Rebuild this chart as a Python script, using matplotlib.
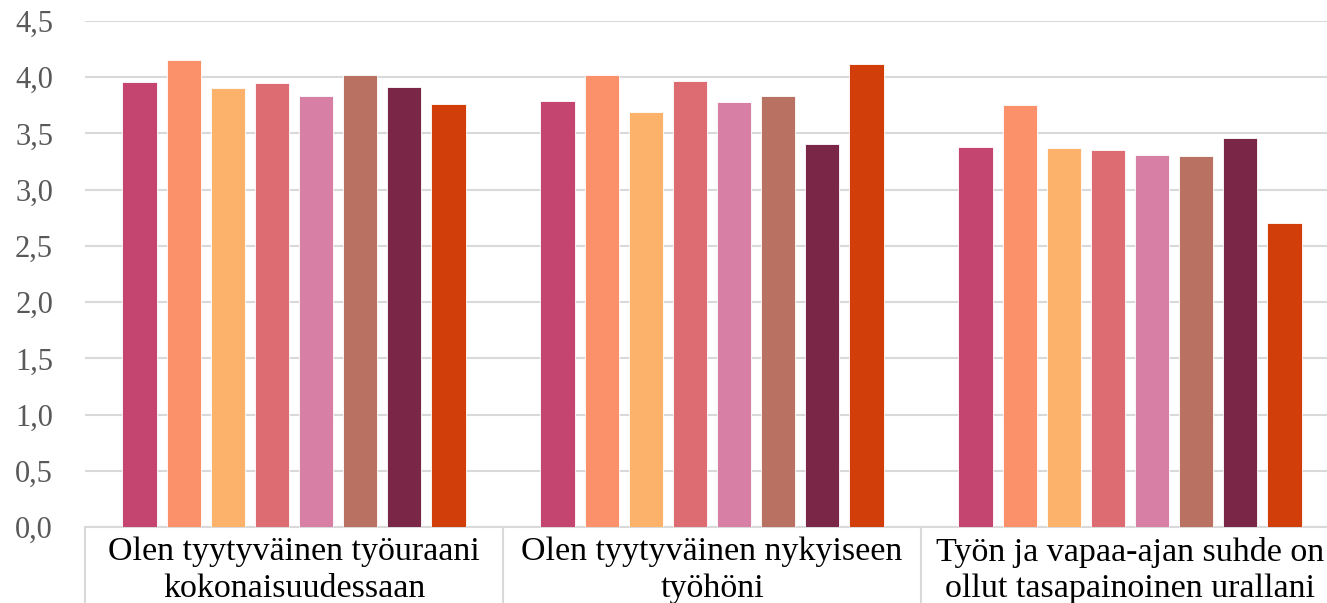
import matplotlib
matplotlib.use("Agg")
import matplotlib.pyplot as plt
import numpy as np

categories = [
    "Olen tyytyväinen työuraani\nkokonaisuudessaan",
    "Olen tyytyväinen nykyiseen\ntyöhöni",
    "Työn ja vapaa-ajan suhde on\nollut tasapainoinen urallani",
]
series_values = [
    [3.96, 3.79, 3.38],
    [4.15, 4.02, 3.75],
    [3.90, 3.69, 3.37],
    [3.95, 3.97, 3.35],
    [3.83, 3.78, 3.31],
    [4.02, 3.83, 3.30],
    [3.91, 3.41, 3.46],
    [3.76, 4.12, 2.70],
]
colors = ["#C4456F", "#FA916B", "#FCB26B", "#DD6B72", "#D77FA5",
          "#B97262", "#7A2646", "#D13E0A"]
yticks = [0.0, 0.5, 1.0, 1.5, 2.0, 2.5, 3.0, 3.5, 4.0, 4.5]
ytick_labels = [f"{v:.1f}".replace(".", ",") for v in yticks]

W, H = 1327, 603
fig = plt.figure(figsize=(W / 100, H / 100), dpi=100)
left_px, right_px, top_px, bottom_px = 85, 1339, 21, 527
ax = fig.add_axes([left_px / W, 1 - bottom_px / H,
                   (right_px - left_px) / W, (bottom_px - top_px) / H])

font = "Liberation Serif"
x = np.arange(len(categories))
n = len(series_values)
step = 0.1053
width = 0.0835
for i, (vals, c) in enumerate(zip(series_values, colors)):
    offs = (i - (n - 1) / 2) * step
    ax.bar(x + offs, vals, width=width, color=c, edgecolor="white",
           linewidth=0.6, zorder=3)

ax.set_xlim(-0.5, len(categories) - 0.5)
ax.set_ylim(0, 4.5)
ax.set_yticks(yticks)
ax.set_yticklabels(ytick_labels, fontfamily=font, fontsize=22, color="#595959")
ax.yaxis.grid(True, color="#D9D9D9", linewidth=1.5, zorder=0)
ax.tick_params(axis="y", length=0, pad=23)

# category dividers as major ticks, labels as minor ticks
ax.set_xticks(np.arange(-0.5, len(categories)), labels=[""] * (len(categories) + 1))
ax.tick_params(axis="x", which="major", length=80, color="#D9D9D9", width=1.5)
ax.set_xticks(x, minor=True)
ax.set_xticklabels(categories, minor=True, fontfamily=font, fontsize=24.5,
                   color="black", linespacing=1.25)
ax.tick_params(axis="x", which="minor", length=0, pad=7)

for s in ["top", "right", "left"]:
    ax.spines[s].set_visible(False)
ax.spines["bottom"].set_color("#D9D9D9")
ax.spines["bottom"].set_linewidth(1.5)
ax.set_axisbelow(True)

fig.savefig("out.png", dpi=100)
